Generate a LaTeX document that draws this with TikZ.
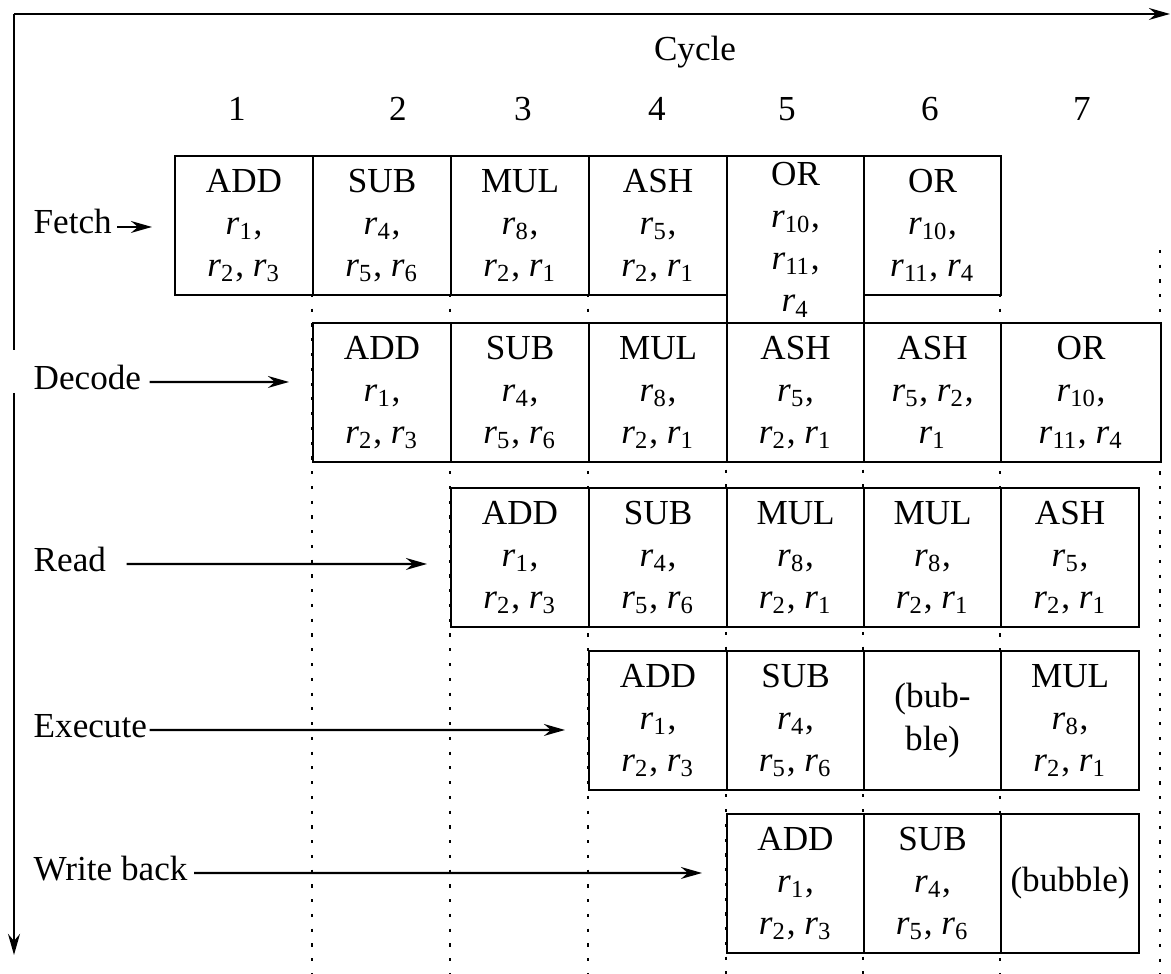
\documentclass[tikz,border=0pt]{standalone}
\usepackage{fontspec}
\setmainfont{Liberation Serif}
\usetikzlibrary{arrows.meta}

% register with subscript, as in r_1
\newcommand{\regn}[1]{\textit{r}\textsubscript{#1}}

\begin{document}
\begin{tikzpicture}[
    >={Stealth[length=6pt,width=3.4pt,inset=2pt]},
    cell/.style={draw, semithick, fill=white, anchor=north west, inner sep=0pt,
        minimum width=1.38cm, minimum height=1.39cm, align=center},
    stage/.style={anchor=base west, inner sep=0pt},
    slot/.style={semithick, dash pattern=on 0.9pt off 3.3pt}
]
    \useasboundingbox (0,0) rectangle (11.71,9.74);

    % --- Axes ---
    % Corner top left, time runs right, stages run down
    \coordinate (O) at (0.14,9.60);
    \coordinate (T) at (11.70,9.60);
    \coordinate (G1) at (0.14,6.24);
    \coordinate (G2) at (0.14,5.81);
    \coordinate (B) at (0.14,0.19);
    \draw[semithick,->] (O) -- (T);
    \draw[semithick] (O) -- (G1);
    \draw[semithick,->] (G2) -- (B);

    % --- Cycle numbers ---
    \node (cycle) at (6.95,9.22) {Cycle};
    \node (c1) at (2.37,8.65) {1};
    \node (c2) at (3.98,8.65) {2};
    \node (c3) at (5.23,8.65) {3};
    \node (c4) at (6.57,8.65) {4};
    \node (c5) at (7.87,8.65) {5};
    \node (c6) at (9.30,8.65) {6};
    \node (c7) at (10.82,8.65) {7};

    % --- Dotted cycle boundaries ---
    \draw[slot] (3.12,6.80) -- (3.12,0);
    \draw[slot] (4.50,6.80) -- (4.50,0);
    \draw[slot] (5.88,6.80) -- (5.88,0);
    \draw[slot] (7.26,6.52) -- (7.26,0);
    \draw[slot] (8.63,6.52) -- (8.63,0);
    \draw[slot] (10.00,6.80) -- (10.00,0);
    \draw[slot] (11.60,7.24) -- (11.60,0);

    % --- Fetch ---
    \node[cell] (f1) at (1.74,8.19) {ADD\\ \regn{1},\\ \regn{2}, \regn{3}};
    \node[cell] (f2) at (3.12,8.19) {SUB\\ \regn{4},\\ \regn{5}, \regn{6}};
    \node[cell] (f3) at (4.50,8.19) {MUL\\ \regn{8},\\ \regn{2}, \regn{1}};
    \node[cell] (f4) at (5.88,8.19) {ASH\\ \regn{5},\\ \regn{2}, \regn{1}};
    \node[cell, minimum width=1.37cm, minimum height=1.67cm] (f5) at (7.26,8.19)
        {OR\\ \regn{10},\\ \regn{11},\\ \regn{4}};
    \node[cell, minimum width=1.37cm] (f6) at (8.63,8.19) {OR\\ \regn{10},\\ \regn{11}, \regn{4}};

    % --- Decode ---
    \node[cell] (d2) at (3.12,6.52) {ADD\\ \regn{1},\\ \regn{2}, \regn{3}};
    \node[cell] (d3) at (4.50,6.52) {SUB\\ \regn{4},\\ \regn{5}, \regn{6}};
    \node[cell] (d4) at (5.88,6.52) {MUL\\ \regn{8},\\ \regn{2}, \regn{1}};
    \node[cell, minimum width=1.37cm] (d5) at (7.26,6.52) {ASH\\ \regn{5},\\ \regn{2}, \regn{1}};
    \node[cell, minimum width=1.37cm] (d6) at (8.63,6.52) {ASH\\ \regn{5}, \regn{2},\\ \regn{1}};
    \node[cell, minimum width=1.60cm] (d7) at (10.00,6.52) {OR\\ \regn{10},\\ \regn{11}, \regn{4}};

    % --- Read ---
    \node[cell] (r3) at (4.50,4.87) {ADD\\ \regn{1},\\ \regn{2}, \regn{3}};
    \node[cell] (r4) at (5.88,4.87) {SUB\\ \regn{4},\\ \regn{5}, \regn{6}};
    \node[cell, minimum width=1.37cm] (r5) at (7.26,4.87) {MUL\\ \regn{8},\\ \regn{2}, \regn{1}};
    \node[cell, minimum width=1.37cm] (r6) at (8.63,4.87) {MUL\\ \regn{8},\\ \regn{2}, \regn{1}};
    \node[cell] (r7) at (10.00,4.87) {ASH\\ \regn{5},\\ \regn{2}, \regn{1}};

    % --- Execute ---
    \node[cell] (e4) at (5.88,3.24) {ADD\\ \regn{1},\\ \regn{2}, \regn{3}};
    \node[cell, minimum width=1.37cm] (e5) at (7.26,3.24) {SUB\\ \regn{4},\\ \regn{5}, \regn{6}};
    \node[cell, minimum width=1.37cm] (e6) at (8.63,3.24) {(bub-\\ble)};
    \node[cell] (e7) at (10.00,3.24) {MUL\\ \regn{8},\\ \regn{2}, \regn{1}};

    % --- Write back ---
    \node[cell, minimum width=1.37cm] (w5) at (7.26,1.61) {ADD\\ \regn{1},\\ \regn{2}, \regn{3}};
    \node[cell, minimum width=1.37cm] (w6) at (8.63,1.61) {SUB\\ \regn{4},\\ \regn{5}, \regn{6}};
    \node[cell] (w7) at (10.00,1.61) {(bubble)};

    % --- Stage labels and arrows ---
    \node[stage] (fetch) at (0.33,7.40) {Fetch};
    \node[stage] (decode) at (0.33,5.84) {Decode};
    \node[stage] (read) at (0.33,4.02) {Read};
    \node[stage] (execute) at (0.33,2.36) {Execute};
    \node[stage] (wback) at (0.33,0.93) {Write back};

    \coordinate (fetch-tip) at (1.52,7.47);
    \coordinate (decode-tip) at (2.89,5.92);
    \coordinate (read-tip) at (4.27,4.10);
    \coordinate (execute-tip) at (5.65,2.44);
    \coordinate (wback-tip) at (7.02,1.01);

    \draw[semithick,->] ([xshift=0.05cm,yshift=0.07cm]fetch.base east) -- (fetch-tip);
    \draw[semithick,->] ([xshift=0.08cm,yshift=0.08cm]decode.base east) -- (decode-tip);
    \draw[semithick,->] ([xshift=0.20cm,yshift=0.08cm]read.base east) -- (read-tip);
    \draw[semithick,->] ([xshift=0.02cm,yshift=0.08cm]execute.base east) -- (execute-tip);
    \draw[semithick,->] ([xshift=0.06cm,yshift=0.08cm]wback.base east) -- (wback-tip);

\end{tikzpicture}
\end{document}
